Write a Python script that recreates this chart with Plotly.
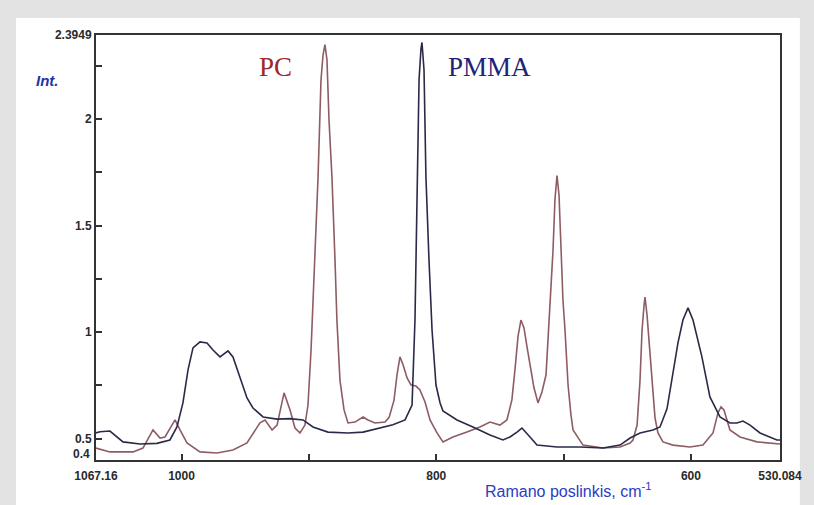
import plotly.graph_objects as go

# PMMA spectrum (wavenumber cm-1, intensity)
pmma_wn = [1067.2, 1064.0, 1056.2, 1046.0, 1032.6, 1019.3, 1009.1, 1003.6, 998.9, 994.9,
           991.0, 985.5, 980.0, 975.3, 969.8, 963.5, 959.6, 954.1, 948.6, 943.9,
           936.0, 925.0, 914.8, 904.6, 896.8, 885.0, 869.3, 857.5, 844.2, 834.0,
           824.5, 819.0, 816.7, 815.1, 813.5, 812.0, 811.2, 809.6, 808.1, 805.7,
           803.3, 800.2, 797.0, 794.7, 783.7, 771.2, 757.8, 747.6, 742.1, 736.6,
           732.7, 726.4, 720.9, 705.2, 687.2, 669.1, 655.7, 647.8, 640.0, 629.8,
           624.3, 618.8, 614.1, 610.2, 606.3, 602.3, 598.4, 591.4, 585.1, 577.2,
           569.4, 563.9, 559.2, 553.6, 545.8, 532.5, 530.1]
pmma_int = [0.527, 0.533, 0.536, 0.485, 0.475, 0.478, 0.494, 0.555, 0.668, 0.823,
            0.926, 0.954, 0.949, 0.916, 0.884, 0.912, 0.884, 0.785, 0.691, 0.644,
            0.602, 0.592, 0.594, 0.588, 0.555, 0.531, 0.527, 0.531, 0.550, 0.565,
            0.588, 0.658, 1.057, 1.729, 2.184, 2.330, 2.360, 2.231, 1.729, 1.339,
            1.010, 0.752, 0.668, 0.630, 0.588, 0.555, 0.517, 0.494, 0.508, 0.531,
            0.550, 0.508, 0.470, 0.461, 0.461, 0.456, 0.470, 0.503, 0.527, 0.541,
            0.555, 0.640, 0.808, 0.950, 1.057, 1.114, 1.057, 0.884, 0.696, 0.602,
            0.574, 0.574, 0.583, 0.564, 0.527, 0.494, 0.494]

# PC spectrum
pc_wn = [1067.2, 1056.2, 1038.1, 1030.3, 1022.4, 1016.9, 1013.0, 1005.1, 1001.2, 995.7,
         985.5, 972.2, 959.6, 948.6, 938.4, 934.4, 928.9, 925.0, 919.5, 914.8,
         910.9, 907.0, 903.1, 900.7, 898.3, 896.8, 894.4, 892.8, 890.5, 888.9,
         887.4, 885.8, 884.2, 881.9, 879.5, 878.0, 875.6, 872.4, 869.3, 863.8,
         857.5, 853.6, 848.1, 840.2, 837.0, 833.2, 830.8, 828.5, 826.0, 822.9,
         819.8, 815.9, 812.8, 808.8, 804.9, 799.4, 794.7, 786.9, 775.9, 765.7,
         757.8, 750.0, 744.5, 740.6, 738.2, 735.8, 733.5, 731.1, 728.7, 726.4,
         723.3, 720.1, 717.0, 713.8, 712.3, 710.7, 708.3, 706.8, 705.2, 703.6,
         702.0, 700.5, 698.9, 696.5, 694.2, 692.6, 684.8, 669.1, 655.7, 647.8,
         645.5, 642.3, 640.0, 638.4, 636.8, 636.1, 634.5, 632.9, 630.6, 628.2,
         625.9, 622.0, 614.1, 600.8, 590.6, 582.7, 578.8, 576.4, 574.1, 571.7,
         569.4, 561.5, 548.2, 530.1]
pc_int = [0.456, 0.438, 0.438, 0.456, 0.541, 0.503, 0.508, 0.588, 0.541, 0.480,
          0.438, 0.433, 0.447, 0.480, 0.574, 0.588, 0.541, 0.564, 0.715, 0.635,
          0.550, 0.527, 0.564, 0.658, 0.916, 1.151, 1.450, 1.729, 2.184, 2.301,
          2.350, 2.278, 1.996, 1.729, 1.339, 1.057, 0.775, 0.635, 0.574, 0.578,
          0.602, 0.588, 0.574, 0.578, 0.600, 0.680, 0.800, 0.884, 0.846, 0.785,
          0.752, 0.747, 0.729, 0.672, 0.588, 0.527, 0.485, 0.508, 0.531, 0.555,
          0.578, 0.564, 0.588, 0.682, 0.823, 0.980, 1.057, 1.020, 0.930, 0.840,
          0.740, 0.668, 0.719, 0.800, 0.963, 1.100, 1.386, 1.621, 1.735, 1.644,
          1.386, 1.151, 1.010, 0.752, 0.611, 0.541, 0.470, 0.456, 0.461, 0.480,
          0.494, 0.564, 0.775, 1.010, 1.128, 1.165, 1.081, 0.963, 0.752, 0.597,
          0.527, 0.485, 0.470, 0.461, 0.470, 0.527, 0.621, 0.649, 0.635, 0.588,
          0.541, 0.508, 0.485, 0.475]

x_tickvals = [1067.16, 1000, 900, 800, 700, 600, 530.084]
x_ticktext = ["1067.16", "1000", "", "800", "", "600", "530.084"]
y_tickvals = [0.4, 0.5, 0.75, 1, 1.25, 1.5, 1.75, 2, 2.25, 2.3949]
y_ticktext = ["", "0.5", "", "1", "", "1.5", "", "2", "", "2.3949"]
y_min_label = "0.4"

fig = go.Figure()
fig.add_trace(go.Scatter(x=pc_wn, y=pc_int, mode="lines", name="PC",
                         line=dict(color="#8e5c63", width=1.6)))
fig.add_trace(go.Scatter(x=pmma_wn, y=pmma_int, mode="lines", name="PMMA",
                         line=dict(color="#2a2a48", width=1.6)))

tickfont = dict(family="Liberation Sans, Arial", size=12, color="#2a2a2a", weight="bold")
fig.update_layout(
    width=814, height=505,
    margin=dict(l=96, r=34, t=35, b=45),
    paper_bgcolor="#e3e3e3",
    plot_bgcolor="white",
    showlegend=False,
    xaxis=dict(range=[1067.16, 530.084], tickvals=x_tickvals, ticktext=x_ticktext,
               ticks="inside", ticklen=6, tickwidth=1.5, tickcolor="#333",
               showgrid=False, zeroline=False, showline=True, linecolor="#333",
               linewidth=2, mirror=True, tickfont=tickfont, ticklabelstandoff=4),
    yaxis=dict(range=[0.4, 2.3949], tickvals=y_tickvals, ticktext=y_ticktext,
               ticks="inside", ticklen=6, tickwidth=1.5, tickcolor="#333",
               showgrid=False, zeroline=False, showline=True, linecolor="#333",
               linewidth=2, mirror=True, tickfont=tickfont),
    shapes=[dict(type="rect", xref="paper", yref="paper", x0=-0.117, x1=1.029,
                 y0=-0.106, y1=1.04, fillcolor="white", line=dict(width=0),
                 layer="below")],
    annotations=[
        dict(text=y_min_label, xref="paper", yref="paper", x=-0.006, y=0.014,
             showarrow=False, xanchor="right", yanchor="middle", font=tickfont),
        dict(text="PC", xref="paper", yref="paper", x=0.263, y=0.925, showarrow=False,
             xanchor="center", yanchor="middle",
             font=dict(family="Liberation Serif, Times New Roman", size=27, color="#a02828")),
        dict(text="PMMA", xref="paper", yref="paper", x=0.576, y=0.925, showarrow=False,
             xanchor="center", yanchor="middle",
             font=dict(family="Liberation Serif, Times New Roman", size=27, color="#22227a")),
        dict(text="<b><i>Int.</i></b>", xref="paper", yref="paper", x=-0.0716, y=0.894,
             showarrow=False, xanchor="center", yanchor="middle",
             font=dict(family="Liberation Sans, Arial", size=15, color="#2233aa")),
        dict(text="Ramano poslinkis, cm<sup>-1</sup>", xref="paper", yref="paper",
             x=0.690, y=-0.0706, showarrow=False, xanchor="center", yanchor="middle",
             font=dict(family="Liberation Sans, Arial", size=16, color="#2b3cc4")),
    ],
)

fig.write_html("out.html", config={"displayModeBar": False},
               post_script="document.body.style.margin='0';")
